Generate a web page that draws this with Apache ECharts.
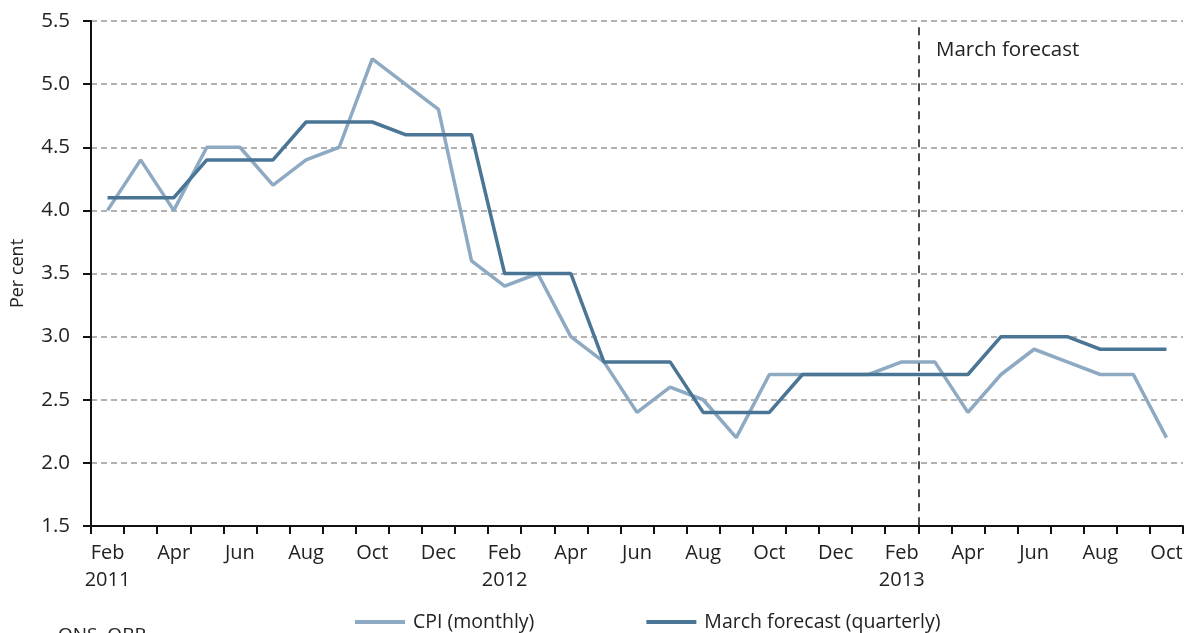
<!DOCTYPE html>
<html>
<head>
<meta charset="utf-8">
<script src="https://cdn.jsdelivr.net/npm/echarts@6/dist/echarts.min.js"></script>
<style>
html,body{margin:0;padding:0;background:#fff;}
#chart{width:1189px;height:633px;}
</style>
</head>
<body>
<div id="chart"></div>
<script>
const months = ['Feb 2011','Mar 2011','Apr 2011','May 2011','Jun 2011','Jul 2011','Aug 2011','Sep 2011','Oct 2011','Nov 2011','Dec 2011',
  'Jan 2012','Feb 2012','Mar 2012','Apr 2012','May 2012','Jun 2012','Jul 2012','Aug 2012','Sep 2012','Oct 2012','Nov 2012','Dec 2012',
  'Jan 2013','Feb 2013','Mar 2013','Apr 2013','May 2013','Jun 2013','Jul 2013','Aug 2013','Sep 2013','Oct 2013'];
const cpiMonthly = [4.0,4.4,4.0,4.5,4.5,4.2,4.4,4.5,5.2,5.0,4.8,
  3.6,3.4,3.5,3.0,2.8,2.4,2.6,2.5,2.2,2.7,2.7,2.7,
  2.7,2.8,2.8,2.4,2.7,2.9,2.8,2.7,2.7,2.2];
const marchForecast = [4.1,4.1,4.1,4.4,4.4,4.4,4.7,4.7,4.7,4.6,4.6,
  4.6,3.5,3.5,3.5,2.8,2.8,2.8,2.4,2.4,2.4,2.7,2.7,
  2.7,2.7,2.7,2.7,3.0,3.0,3.0,2.9,2.9,2.9];
const yTicks = [1.5,2.0,2.5,3.0,3.5,4.0,4.5,5.0,5.5];
const forecastBoundary = 25; // boundary between Feb 2013 and Mar 2013
const seriesNames = ['CPI (monthly)','March forecast (quarterly)'];
const annotationText = 'March forecast';
const sourceText = 'ONS, OBR';

const font = '"Open Sans", Lato, sans-serif';
const chart = echarts.init(document.getElementById('chart'), null, {renderer:'canvas'});
chart.setOption({
  animation:false,
  backgroundColor:'#fff',
  grid:{left:91,right:6,top:21,bottom:107,containLabel:false},
  legend:{
    left:350, top:607,
    itemGap:112, itemWidth:50, itemHeight:4,
    icon:'rect',
    textStyle:{fontFamily:font,fontSize:19.5,color:'#222',padding:[0,0,0,3]},
    data:seriesNames
  },
  xAxis:[{
    type:'category', data:months, boundaryGap:true,
    axisLine:{lineStyle:{color:'#111',width:2}},
    axisTick:{show:true,interval:0,length:8,lineStyle:{color:'#111',width:2}},
    axisLabel:{interval:1,margin:14,fontFamily:font,fontSize:20,color:'#222',lineHeight:27,
      formatter:function(v){const p=v.split(' ');return (p[0]==='Feb')?p[0]+'\n'+p[1]:p[0];}},
    splitLine:{show:false}
  },{
    type:'value', min:0, max:months.length, show:false
  }],
  yAxis:{
    type:'value', min:yTicks[0], max:yTicks[yTicks.length-1], interval:0.5,
    name:'Per cent', nameLocation:'middle', nameGap:64, nameRotate:90,
    nameTextStyle:{fontFamily:font,fontSize:18,color:'#222'},
    axisLine:{show:true,lineStyle:{color:'#111',width:2}},
    axisTick:{show:true,length:8,lineStyle:{color:'#111',width:2}},
    axisLabel:{margin:21,fontFamily:font,fontSize:20.5,color:'#222',formatter:v=>v.toFixed(1)},
    splitLine:{show:true,lineStyle:{color:'#999',width:1.5,type:[6,4]}}
  },
  series:[
    {name:seriesNames[0],type:'line',data:cpiMonthly,symbol:'none',
     lineStyle:{color:'#8eaac3',width:3.5},itemStyle:{color:'#8eaac3'},z:3},
    {name:seriesNames[1],type:'line',data:marchForecast,symbol:'none',
     lineStyle:{color:'#4a7594',width:3.5},itemStyle:{color:'#4a7594'},z:4},
    {type:'line',xAxisIndex:1,data:[],silent:true,
     markLine:{symbol:'none',silent:true,label:{show:false},
       lineStyle:{color:'#111',width:1.5,type:[8,6]},
       data:[[{coord:[forecastBoundary,5.45]},{coord:[forecastBoundary,1.5]}]]}}
  ],
  graphic:[
    {type:'text',left:936,top:40,style:{text:annotationText,font:'20.5px '+font,fill:'#222'}},
    {type:'text',left:58,top:626,style:{text:sourceText,font:'19px '+font,fill:'#222'}}
  ]
});
</script>
</body>
</html>
